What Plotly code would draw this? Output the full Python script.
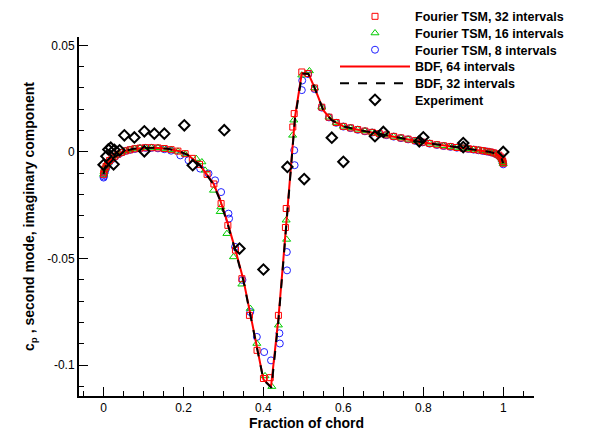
import plotly.graph_objects as go

# ---------------- data ----------------
# Fourier TSM, 32 intervals (red squares)
red_fore_x = [0.0, 0.001, 0.003, 0.006, 0.010, 0.015, 0.021, 0.028, 0.036, 0.045, 0.055, 0.066,
              0.078, 0.091, 0.105, 0.120, 0.136, 0.152, 0.169, 0.186, 0.204, 0.222, 0.240, 0.259,
              0.276, 0.294, 0.311, 0.330, 0.346, 0.365, 0.384, 0.400, 0.417, 0.4375, 0.455, 0.457,
              0.4735, 0.477, 0.496, 0.512, 0.528, 0.546, 0.564, 0.582, 0.600]
red_fore_y = [-0.0105, -0.0095, -0.008, -0.0068, -0.0052, -0.004, -0.003, -0.002, -0.001, -0.0002,
              0.0005, 0.001, 0.0015, 0.0018, 0.002, 0.002, 0.0019, 0.0016, 0.0011, 0.0004, -0.0008,
              -0.003, -0.0058, -0.0105, -0.015, -0.0242, -0.0344, -0.046, -0.0594, -0.0766, -0.093,
              -0.1062, -0.1058, -0.0766, -0.0354, -0.0265, 0.0117, 0.018, 0.0375, 0.0368, 0.030,
              0.021, 0.0163, 0.0138, 0.012]

# Fourier TSM, 16 intervals (green triangles)
green_fore_x = [0.0, 0.001, 0.003, 0.006, 0.010, 0.015, 0.021, 0.028, 0.036, 0.045, 0.055, 0.066,
                0.078, 0.091, 0.105, 0.120, 0.136, 0.152, 0.169, 0.186, 0.204, 0.2318, 0.246, 0.254,
                0.275, 0.2918, 0.2935, 0.3085, 0.325, 0.346, 0.367, 0.3835, 0.404, 0.421, 0.4375,
                0.4568, 0.458, 0.473, 0.476, 0.496, 0.515, 0.528, 0.546, 0.564, 0.582, 0.600]
green_fore_y = [-0.0105, -0.0094, -0.0079, -0.0067, -0.0051, -0.0039, -0.0029, -0.0019, -0.0009,
                -0.0001, 0.0006, 0.0011, 0.0016, 0.0019, 0.0021, 0.0021, 0.002, 0.0016, 0.0011,
                0.0003, -0.001, -0.0031, -0.0047, -0.0086, -0.018, -0.028, -0.0258, -0.0383,
                -0.0492, -0.062, -0.0734, -0.0898, -0.105, -0.110, -0.0812, -0.032, -0.041, 0.0078,
                0.0149, 0.036, 0.038, 0.030, 0.021, 0.0163, 0.0138, 0.012]

# Fourier TSM, 8 intervals (blue circles)
blue_fore_x = [0.0, 0.0005, 0.001, 0.002, 0.003, 0.0045, 0.006, 0.008, 0.010, 0.015, 0.021, 0.028,
               0.036, 0.045, 0.055, 0.066, 0.078, 0.091, 0.105, 0.120, 0.136, 0.152, 0.169, 0.192,
               0.2125, 0.2418, 0.2625, 0.279, 0.294, 0.3125, 0.314, 0.329, 0.3475, 0.367, 0.3835,
               0.4018, 0.419, 0.440, 0.441, 0.4585, 0.459, 0.477, 0.478, 0.496, 0.497, 0.512, 0.528,
               0.546, 0.564, 0.582, 0.600]
blue_fore_y = [-0.012, -0.0115, -0.0108, -0.0100, -0.0092, -0.0084, -0.0077, -0.0068, -0.006,
               -0.0046, -0.0034, -0.0023, -0.0012, -0.0003, 0.0005, 0.001, 0.0014, 0.0017, 0.0019,
               0.0019, 0.0017, 0.0013, 0.0006, -0.0016, -0.0039, -0.0078, -0.0101, -0.0133,
               -0.0188, -0.0289, -0.0312, -0.0445, -0.060, -0.075, -0.0867, -0.0938, -0.0977,
               -0.085, -0.0898, -0.0469, -0.0555, 0.0008, -0.0062, 0.029, 0.0335, 0.0365, 0.0295,
               0.0208, 0.0162, 0.0137, 0.0119]

# shared aft chord stations for the TSM series
aft_x = [0.618, 0.636, 0.654, 0.672, 0.690, 0.708, 0.726, 0.744, 0.762, 0.780, 0.798, 0.816, 0.834,
         0.851, 0.868, 0.884, 0.899, 0.913, 0.926, 0.938, 0.949, 0.959, 0.968, 0.976, 0.983, 0.989,
         0.994, 0.997, 0.999, 1.0]
red_aft_y = [0.0113, 0.0105, 0.0098, 0.0092, 0.0086, 0.008, 0.0073, 0.0066, 0.006, 0.0053, 0.0046,
             0.004, 0.0034, 0.0029, 0.0025, 0.0021, 0.0018, 0.0015, 0.0012, 0.0009, 0.0006, 0.0003,
             0.0, -0.0004, -0.0009, -0.0015, -0.0024, -0.0034, -0.0045, -0.0053]
green_aft_y = [0.0113, 0.0106, 0.0099, 0.0092, 0.0086, 0.0079, 0.0073, 0.0066, 0.0059, 0.0053,
               0.0047, 0.0041, 0.0035, 0.0029, 0.0025, 0.0021, 0.0018, 0.0015, 0.0012, 0.0009,
               0.0006, 0.0002, -0.0001, -0.0005, -0.001, -0.0016, -0.0025, -0.0035, -0.0046, -0.0055]
blue_aft_y = [0.0112, 0.0104, 0.0097, 0.0091, 0.0085, 0.0079, 0.0072, 0.0065, 0.0059, 0.0052,
              0.0045, 0.0039, 0.0033, 0.0028, 0.0024, 0.002, 0.0017, 0.0014, 0.0011, 0.0008,
              0.0005, 0.0002, -0.0001, -0.0005, -0.0011, -0.0018, -0.0028, -0.0039, -0.005, -0.0058]

# BDF, 64 intervals (red line)
bdf64_x = [0.0, 0.003, 0.007, 0.012, 0.02, 0.03, 0.05, 0.075, 0.10, 0.13, 0.16, 0.19, 0.21, 0.24,
           0.275, 0.29, 0.31, 0.33, 0.35, 0.367, 0.3835, 0.40, 0.419, 0.4375, 0.45, 0.462, 0.47,
           0.479, 0.496, 0.5125, 0.529, 0.55, 0.571, 0.60, 0.642, 0.70, 0.75, 0.80, 0.85, 0.90,
           0.94, 0.967, 0.98, 0.99, 0.996, 1.0]
bdf64_y = [-0.0105, -0.0078, -0.006, -0.0046, -0.0033, -0.002, 0.0002, 0.0014, 0.0019, 0.002,
           0.0015, 0.0003, -0.0012, -0.0058, -0.0148, -0.0215, -0.033, -0.046, -0.060, -0.0758,
           -0.0914, -0.1067, -0.110, -0.078, -0.050, -0.023, -0.005, 0.0164, 0.037, 0.0367, 0.0297,
           0.0195, 0.0149, 0.012, 0.0102, 0.0082, 0.0063, 0.0044, 0.0031, 0.002, 0.001, 0.0,
           -0.0007, -0.0017, -0.0032, -0.0053]

# BDF, 32 intervals (black dashed line)
bdf32_x = [0.0, 0.003, 0.007, 0.012, 0.02, 0.03, 0.05, 0.075, 0.10, 0.13, 0.16, 0.19, 0.21, 0.24,
           0.275, 0.29, 0.31, 0.33, 0.35, 0.367, 0.3835, 0.40, 0.42, 0.4375, 0.45, 0.462, 0.47,
           0.479, 0.497, 0.5125, 0.529, 0.55, 0.571, 0.60, 0.642, 0.70, 0.75, 0.80, 0.85, 0.90,
           0.94, 0.967, 0.98, 0.99, 0.996, 1.0]
bdf32_y = [-0.0103, -0.0077, -0.0059, -0.0045, -0.0032, -0.0019, 0.0003, 0.0015, 0.0019, 0.002,
           0.0015, 0.0003, -0.0013, -0.006, -0.0152, -0.022, -0.0335, -0.0465, -0.0605, -0.0762,
           -0.0918, -0.1068, -0.1105, -0.079, -0.051, -0.024, -0.006, 0.0158, 0.0368, 0.0366,
           0.0296, 0.0194, 0.0149, 0.012, 0.0102, 0.0082, 0.0063, 0.0044, 0.0031, 0.002, 0.001,
           0.0, -0.0007, -0.0017, -0.0032, -0.0052]

# Experiment (black diamonds)
exp_x = [0.0, 0.007, 0.012, 0.018, 0.025, 0.027, 0.04, 0.052, 0.077, 0.102, 0.102, 0.127, 0.152,
         0.202, 0.223, 0.302, 0.34, 0.40, 0.46, 0.502, 0.571, 0.60, 0.679, 0.70, 0.79, 0.80, 0.90,
         0.90, 1.0]
exp_y = [-0.006, -0.002, 0.0012, 0.002, -0.0058, 0.001, 0.0008, 0.0078, 0.0068, 0.0097, 0.0003,
         0.0086, 0.0086, 0.0125, -0.0062, 0.0102, -0.0453, -0.0551, -0.007, -0.0127, 0.0067,
         -0.0046, 0.0074, 0.0094, 0.005, 0.0069, 0.0042, 0.0023, 0.0]

# axes ticks
x_tickvals = [0, 0.2, 0.4, 0.6, 0.8, 1.0]
x_ticktext = ["0", "0.2", "0.4", "0.6", "0.8", "1"]
x_minorvals = [-0.05, 0.05, 0.1, 0.15, 0.25, 0.3, 0.35, 0.45, 0.5, 0.55, 0.65, 0.7, 0.75,
               0.85, 0.9, 0.95, 1.05]
y_tickvals = [-0.1, -0.05, 0, 0.05]
y_ticktext = ["-0.1", "-0.05", "0", "0.05"]
y_minorvals = [-0.11, -0.09, -0.08, -0.07, -0.06, -0.04, -0.03, -0.02, -0.01, 0.01, 0.02, 0.03, 0.04]

# ---------------- figure ----------------
RED = "#ff0000"
GREEN = "#00cc00"
BLUE = "#2020ff"

fig = go.Figure()

fig.add_trace(go.Scatter(
    x=blue_fore_x + aft_x, y=blue_fore_y + blue_aft_y, mode="markers",
    name="Fourier TSM, 8 intervals", legend="legend3",
    marker=dict(symbol="circle-open", size=7, color=BLUE, line=dict(width=1, color=BLUE))))
fig.add_trace(go.Scatter(
    x=green_fore_x + aft_x, y=green_fore_y + green_aft_y, mode="markers",
    name="Fourier TSM, 16 intervals", legend="legend2",
    marker=dict(symbol="triangle-up-open", size=7, color=GREEN, line=dict(width=1, color=GREEN))))
fig.add_trace(go.Scatter(
    x=red_fore_x + aft_x, y=red_fore_y + red_aft_y, mode="markers",
    name="Fourier TSM, 32 intervals", legend="legend",
    marker=dict(symbol="square-open", size=6, color=RED, line=dict(width=1, color=RED))))
fig.add_trace(go.Scatter(
    x=bdf64_x, y=bdf64_y, mode="lines", name="BDF, 64 intervals", legend="legend4",
    line=dict(color=RED, width=2)))
fig.add_trace(go.Scatter(
    x=bdf32_x, y=bdf32_y, mode="lines", name="BDF, 32 intervals", legend="legend5",
    line=dict(color="black", width=2, dash="dash")))
fig.add_trace(go.Scatter(
    x=exp_x, y=exp_y, mode="markers", name="Experiment", legend="legend6",
    marker=dict(symbol="diamond-open", size=8, color="black", line=dict(width=2, color="black"))))

axis_common = dict(
    showline=True, linecolor="black", linewidth=2, mirror=False,
    showgrid=False, zeroline=False,
    ticks="inside", ticklen=9, tickwidth=1, tickcolor="black",
    tickfont=dict(family="Liberation Sans", size=12, color="black"),
)

fig.update_xaxes(
    range=[-0.0615, 1.077], tickmode="array", tickvals=x_tickvals, ticktext=x_ticktext,
    minor=dict(tickmode="array", tickvals=x_minorvals, ticks="inside", ticklen=5,
               tickwidth=1, tickcolor="black", showgrid=False),
    title=dict(text="<b>Fraction of chord</b>", font=dict(family="Liberation Sans", size=14,
               color="black"), standoff=2),
    **axis_common)
fig.update_yaxes(
    range=[-0.1144, 0.0539], tickmode="array", tickvals=y_tickvals, ticktext=y_ticktext,
    minor=dict(tickmode="array", tickvals=y_minorvals, ticks="inside", ticklen=5,
               tickwidth=1, tickcolor="black", showgrid=False),
    title=dict(text="<b>c<sub>p</sub> , second mode, imaginary component</b>",
               font=dict(family="Liberation Sans", size=14, color="black"), standoff=9),
    **axis_common)

# one single-entry legend per row, stacked like the reference legend
PLOT_TOP, PLOT_H = 37, 359
row_px = [16.7, 33.4, 50.1, 66.8, 83.5, 100.2]
legend_names = ["legend", "legend2", "legend3", "legend4", "legend5", "legend6"]
legend_x = (335 - 79) / 455.0
legend_layout = {}
for name, py in zip(legend_names, row_px):
    legend_layout[name] = dict(
        x=legend_x, y=(PLOT_TOP + PLOT_H - py) / PLOT_H, xanchor="left", yanchor="middle",
        bgcolor="rgba(0,0,0,0)", borderwidth=0, itemwidth=70,
        font=dict(family="Liberation Sans", size=12.5, color="black", weight="bold"))

fig.update_layout(
    width=593, height=432,
    margin=dict(l=79, r=59, t=37, b=36, autoexpand=False),
    plot_bgcolor="white", paper_bgcolor="white",
    font=dict(family="Liberation Sans", size=12, color="black"),
    showlegend=True,
    **legend_layout,
)

fig.write_html("out.html")
